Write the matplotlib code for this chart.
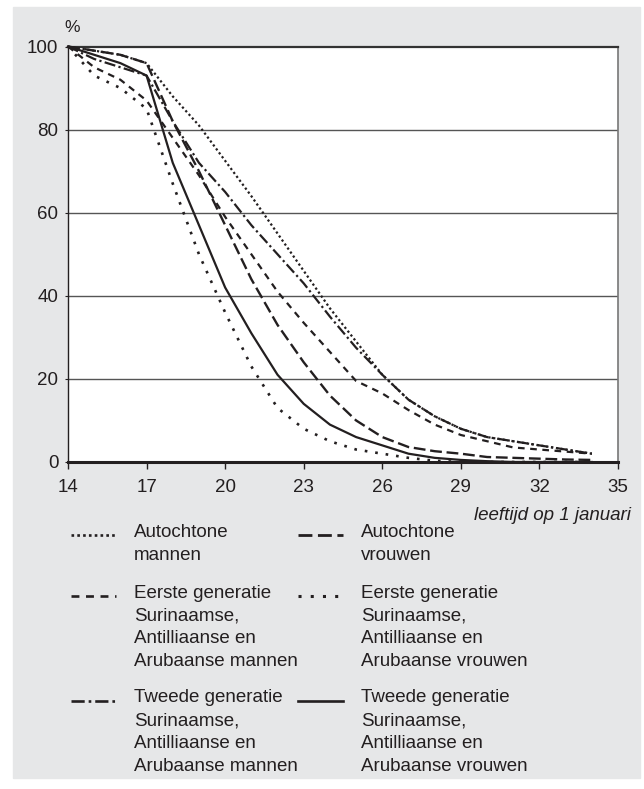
import matplotlib.pyplot as plt
from matplotlib.lines import Line2D
from matplotlib.patches import Rectangle

plt.rcParams['font.family'] = ['Liberation Sans', 'DejaVu Sans']

# age on 1 January, share still living with parents (%)
ages = list(range(14, 35))
autochtone_mannen = [100, 99, 98, 96, 88, 81, 72.5, 64, 55, 46, 37, 29, 21, 15, 11, 8, 6, 5, 4, 3, 2]
autochtone_vrouwen = [100, 99, 98, 96, 82, 70, 57, 44, 33, 24, 16, 10, 6, 3.6, 2.6, 2, 1.2, 1, 0.8, 0.6, 0.5]
eerste_mannen = [100, 95, 92, 87, 78, 69, 59, 50, 41, 33.5, 26.5, 19.5, 16.5, 12.5, 9, 6.5, 5, 3.5, 3, 2.5, 2]
eerste_vrouwen = [100, 93, 90, 85, 67, 50, 36, 23, 13, 8, 5, 3, 2, 1, 0.3, 0, 0, 0, 0, 0, 0]
tweede_mannen = [100, 97, 95, 93, 82, 72, 65, 57, 50, 43, 35, 27.5, 21, 15, 11, 8, 6, 5, 4, 3, 2]
tweede_vrouwen = [100, 98, 96, 93, 72, 57, 42, 31, 21, 14, 9, 6, 4, 2, 1, 0.5, 0.2, 0, 0, 0, 0]

labels = [
    'Autochtone\nmannen',
    'Autochtone\nvrouwen',
    'Eerste generatie\nSurinaamse,\nAntilliaanse en\nArubaanse mannen',
    'Eerste generatie\nSurinaamse,\nAntilliaanse en\nArubaanse vrouwen',
    'Tweede generatie\nSurinaamse,\nAntilliaanse en\nArubaanse mannen',
    'Tweede generatie\nSurinaamse,\nAntilliaanse en\nArubaanse vrouwen',
]
series = [autochtone_mannen, autochtone_vrouwen, eerste_mannen,
          eerste_vrouwen, tweede_mannen, tweede_vrouwen]
styles = [
    dict(lw=1.6, ls=(0, (1, 1.2))),
    dict(lw=1.7, ls=(0, (5, 2))),
    dict(lw=1.6, ls=(0, (3, 2.5))),
    dict(lw=1.9, ls=(0, (1, 3))),
    dict(lw=1.6, ls=(0, (5, 1.5, 1, 1.5))),
    dict(lw=1.6, ls='-'),
]
ink = '#231f20'
fs = 13.5

W, H = 644, 789
fig = plt.figure(figsize=(W / 100, H / 100), dpi=100)
fig.patch.set_facecolor('white')


def fx(px):
    return px / W


def fy(py):
    return 1 - py / H


# grey panel behind everything
fig.add_artist(Rectangle((fx(13), fy(778)), fx(640) - fx(13), fy(7) - fy(778),
                         transform=fig.transFigure, color='#e6e7e8', zorder=-10))

ax = fig.add_axes([fx(68), fy(462), fx(618) - fx(68), fy(46.5) - fy(462)])
ax.set_facecolor('white')

for vals, st in zip(series, styles):
    ax.plot(ages, vals, color=ink, lw=st['lw'], ls=st['ls'], clip_on=False, zorder=3)

ax.set_xlim(14, 35)
ax.set_ylim(0, 100)
ax.set_xticks(range(14, 36, 3))
ax.set_yticks(range(0, 101, 20))
ax.tick_params(axis='both', labelsize=fs, colors=ink)
ax.tick_params(axis='x', length=5, width=1, pad=7)
ax.tick_params(axis='y', length=2, width=0.8, pad=5)

for y in (20, 40, 60, 80):
    ax.axhline(y, color='#555555', lw=1, zorder=1)

ax.spines['left'].set_color(ink)
ax.spines['left'].set_linewidth(1)
ax.spines['bottom'].set_color(ink)
ax.spines['bottom'].set_linewidth(2.2)
ax.spines['top'].set_color('#333333')
ax.spines['top'].set_linewidth(1.6)
ax.spines['right'].set_color('#777777')
ax.spines['right'].set_linewidth(1.2)

fig.text(fx(72), fy(27), '%', fontsize=fs - 1, color=ink, ha='center', va='center')
fig.text(fx(631), fy(515), 'leeftijd op 1 januari', fontsize=fs, color=ink,
         style='italic', ha='right', va='center')

# legend, two columns, three rows
cols = [(71, 116, 134), (298, 343, 361)]
rows = [531, 591.5, 696.5]
for i, (lab, st) in enumerate(zip(labels, styles)):
    r, c = divmod(i, 2)
    x0, x1, xt = cols[c]
    y = rows[r]
    fig.add_artist(Line2D([fx(x0), fx(x1)], [fy(y + 4), fy(y + 4)],
                          transform=fig.transFigure, color=ink,
                          lw=st['lw'] + 0.3, ls=st['ls']))
    fig.text(fx(xt), fy(y - 7), lab, fontsize=fs, color=ink, ha='left', va='top',
             linespacing=1.44)

fig.savefig('out.png', dpi=100)
